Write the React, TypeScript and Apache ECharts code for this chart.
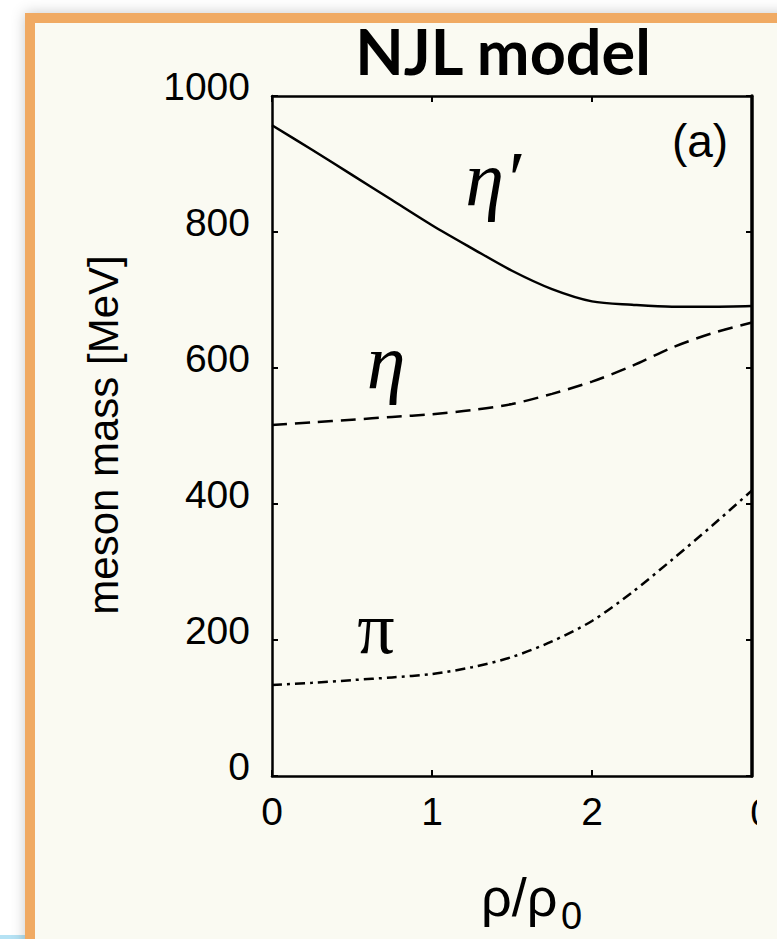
import React, { useEffect, useRef } from "react";
import * as echarts from "echarts";

// density ρ/ρ0 sample points
const densities = [0, 0.25, 0.5, 0.75, 1, 1.25, 1.5, 1.75, 2, 2.25, 2.5, 2.75, 3];
// meson masses [MeV]
const etaPrimeMass = [957, 921, 884, 847, 810, 776, 743, 716, 698, 693, 690, 690, 691];
const etaMass = [516, 520, 524, 528, 532, 538, 547, 562, 580, 603, 630, 651, 667];
const pionMass = [134, 137, 141, 145, 150, 160, 175, 198, 228, 270, 318, 368, 420];

const xTicks = ["0", "1", "2", ""];

const CREAM = "#FAFAF2";
const ORANGE = "#F0AA64";
const SANS = "'Liberation Sans', Arial, sans-serif";
const SERIF = "'Liberation Serif', 'Times New Roman', serif";

const pairs = (ys: number[]) => densities.map((x, i) => [x, ys[i]]);

export default function App() {
  const ref = useRef<HTMLDivElement>(null);

  useEffect(() => {
    document.body.style.margin = "0";
    const chart = echarts.init(ref.current!, undefined, { renderer: "svg" });

    const axisLine = { show: true, onZero: false, lineStyle: { color: "#000", width: 2.5 } };
    const tick = { show: true, inside: true, length: 6, lineStyle: { color: "#000", width: 2 } };

    chart.setOption({
      animation: false,
      backgroundColor: "#ffffff",
      grid: { left: 272, top: 96, width: 480, height: 680, containLabel: false },
      xAxis: [
        {
          type: "value",
          min: 0,
          max: 3,
          interval: 1,
          axisLine,
          axisTick: tick,
          splitLine: { show: false },
          axisLabel: {
            color: "#000",
            fontFamily: SANS,
            fontSize: 39,
            margin: 16,
            formatter: (v: number) => xTicks[Math.round(v)] ?? "",
          },
        },
        {
          type: "value",
          position: "top",
          min: 0,
          max: 3,
          interval: 1,
          axisLine,
          axisTick: tick,
          splitLine: { show: false },
          axisLabel: { show: false },
        },
      ],
      yAxis: [
        {
          type: "value",
          min: 0,
          max: 1000,
          interval: 200,
          axisLine,
          axisTick: tick,
          splitLine: { show: false },
          axisLabel: {
            color: "#000",
            fontFamily: SANS,
            fontSize: 39,
            margin: 22,
            verticalAlign: "bottom",
            lineHeight: 20,
            formatter: (v: number) => String(v),
          },
        },
        {
          type: "value",
          position: "right",
          min: 0,
          max: 1000,
          interval: 200,
          axisLine: { show: true, onZero: false, lineStyle: { color: "#000", width: 3.5 } },
          axisTick: tick,
          splitLine: { show: false },
          axisLabel: { show: false },
        },
      ],
      series: [
        {
          name: "η′",
          type: "line",
          data: pairs(etaPrimeMass),
          smooth: 0.3,
          showSymbol: false,
          lineStyle: { color: "#000", width: 2.5, type: "solid" },
        },
        {
          name: "η",
          type: "line",
          data: pairs(etaMass),
          smooth: 0.3,
          showSymbol: false,
          lineStyle: { color: "#000", width: 2.5, type: [15, 8] },
        },
        {
          name: "π",
          type: "line",
          data: pairs(pionMass),
          smooth: 0.3,
          showSymbol: false,
          lineStyle: { color: "#000", width: 2.5, type: [10, 5, 3, 5] },
        },
      ],
      graphic: [
        // page frame
        { type: "rect", z: -10, shape: { x: 0, y: 935, width: 25, height: 4 }, style: { fill: "#B5E2F4" } },
        {
          type: "rect",
          z: -9,
          shape: { x: 25, y: 13, width: 800, height: 960 },
          style: { fill: ORANGE, shadowBlur: 14, shadowColor: "rgba(0,0,0,0.22)" },
        },
        { type: "rect", z: -8, shape: { x: 35, y: 23, width: 800, height: 960 }, style: { fill: CREAM } },
        // next panel's first tick label, cut by the panel edge
        {
          type: "text",
          z: 50,
          x: 761,
          y: 812,
          style: { text: "0", font: `39px ${SANS}`, fill: "#000", align: "center", verticalAlign: "middle" },
        },
        { type: "rect", z: 60, shape: { x: 757, y: 785, width: 30, height: 60 }, style: { fill: CREAM } },
        // title and panel tag
        {
          type: "text",
          z: 50,
          x: 503,
          y: 50,
          style: { text: "NJL model", font: `bold 63px Lato, ${SANS}`, fill: "#000", align: "center", verticalAlign: "middle" },
        },
        {
          type: "text",
          z: 50,
          x: 700,
          y: 141,
          style: { text: "(a)", font: `46px ${SANS}`, fill: "#000", align: "center", verticalAlign: "middle" },
        },
        // axis titles
        {
          type: "text",
          z: 50,
          x: 103,
          y: 435,
          rotation: Math.PI / 2,
          style: { text: "meson mass [MeV]", font: `42px ${SANS}`, fill: "#000", align: "center", verticalAlign: "middle" },
        },
        {
          type: "text",
          z: 50,
          x: 481,
          y: 870,
          style: { text: "ρ/ρ", font: `54px ${SANS}`, fill: "#000", align: "left", verticalAlign: "top" },
        },
        {
          type: "text",
          z: 50,
          x: 561,
          y: 897,
          style: { text: "0", font: `38px ${SANS}`, fill: "#000", align: "left", verticalAlign: "top" },
        },
        // curve labels
        {
          type: "text",
          z: 50,
          x: 493,
          y: 178,
          style: { text: "η′", font: `italic 78px ${SERIF}`, fill: "#000", align: "center", verticalAlign: "middle" },
        },
        {
          type: "text",
          z: 50,
          x: 386,
          y: 361,
          style: { text: "η", font: `italic 78px ${SERIF}`, fill: "#000", align: "center", verticalAlign: "middle" },
        },
        {
          type: "text",
          z: 50,
          x: 376,
          y: 628,
          style: { text: "π", font: `74px ${SERIF}`, fill: "#000", align: "center", verticalAlign: "middle" },
        },
      ],
    });

    return () => chart.dispose();
  }, []);

  return <div ref={ref} style={{ width: 777, height: 939 }} />;
}
